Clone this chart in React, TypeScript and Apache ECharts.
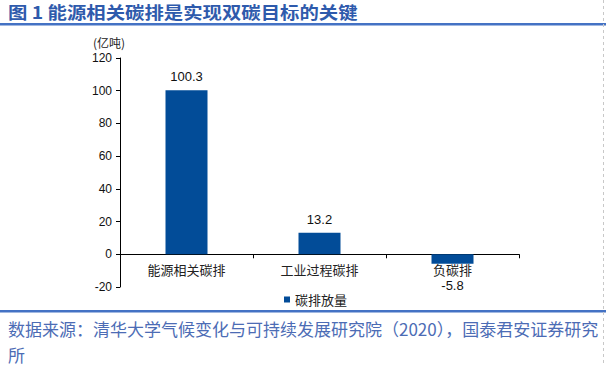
import React, { useEffect, useRef } from "react";
import * as echarts from "echarts";

const categories = ["能源相关碳排", "工业过程碳排", "负碳排"];
const emissions = [100.3, 13.2, -5.8];
const seriesName = "碳排放量";
const yTicks = { min: -20, max: 120, interval: 20 };
const titleText = "图 1 能源相关碳排是实现双碳目标的关键";
const unitText = "(亿吨)";
const sourceLine1 = "数据来源：清华大学气候变化与可持续发展研究院（2020），国泰君安证券研究";
const sourceLine2 = "所";

const BAR = "#024C98";
const CJK = "'Noto Sans CJK SC', sans-serif";
const LATIN = "'Liberation Sans', Arial, sans-serif";

const GRID_TOP = 58;
const GRID_BOTTOM = 79;
const PLOT_H = 366 - GRID_TOP - GRID_BOTTOM;

export default function App() {
  const ref = useRef<HTMLDivElement>(null);
  useEffect(() => {
    if (!ref.current) return;
    const chart = echarts.init(ref.current, null, { renderer: "svg" });
    // distance from the grid bottom (y = min) up to the zero line
    const zeroOffset = (PLOT_H * (0 - yTicks.min)) / (yTicks.max - yTicks.min);
    chart.setOption({
      animation: false,
      backgroundColor: "#ffffff",
      grid: { left: 120, right: 89, top: GRID_TOP, bottom: GRID_BOTTOM },
      legend: {
        data: [seriesName],
        left: 279,
        top: 288,
        icon: "rect",
        itemWidth: 6,
        itemHeight: 6,
        itemGap: 4,
        textStyle: { fontFamily: CJK, fontSize: 13, color: "#222" },
      },
      xAxis: {
        type: "category",
        data: categories,
        offset: -zeroOffset,
        axisLine: { onZero: false, lineStyle: { color: "#000", width: 1 } },
        axisTick: { show: true, length: 4, lineStyle: { color: "#000" } },
        axisLabel: { fontFamily: CJK, fontSize: 13, color: "#222", margin: 9 },
      },
      yAxis: {
        type: "value",
        min: yTicks.min,
        max: yTicks.max,
        interval: yTicks.interval,
        axisLine: { show: true, lineStyle: { color: "#000", width: 1 } },
        axisTick: { show: true, inside: false, length: 4, lineStyle: { color: "#000" } },
        axisLabel: { fontFamily: LATIN, fontSize: 12, color: "#111", margin: 8 },
        splitLine: { show: false },
      },
      series: [
        {
          name: seriesName,
          type: "bar",
          barWidth: 42,
          itemStyle: { color: BAR },
          label: {
            show: true,
            position: "top",
            distance: 7,
            fontFamily: LATIN,
            fontSize: 13,
            color: "#111",
          },
          data: emissions.map((v) =>
            v < 0
              ? { value: v, label: { position: "bottom", distance: 15 } }
              : { value: v }
          ),
        },
      ],
      graphic: [
        {
          type: "text",
          x: 8,
          y: 12,
          scaleX: 1.14,
          style: {
            text: titleText,
            fontFamily: CJK,
            fontWeight: "bold",
            fontSize: 17,
            fill: "#2E5AAC",
            verticalAlign: "middle",
          },
        },
        {
          type: "rect",
          shape: { x: 0, y: 23, width: 606, height: 2.5 },
          style: { fill: "#4472C4" },
        },
        {
          type: "text",
          x: 109,
          y: 42,
          style: {
            text: unitText,
            fontFamily: CJK,
            fontSize: 12,
            fill: "#222",
            align: "center",
            verticalAlign: "middle",
          },
        },
        {
          type: "rect",
          shape: { x: 0, y: 310, width: 606, height: 2.5 },
          style: { fill: "#4472C4" },
        },
        {
          type: "text",
          x: 8,
          y: 328,
          style: {
            text: sourceLine1,
            fontFamily: CJK,
            fontSize: 17,
            fill: "#4C6CB5",
            verticalAlign: "middle",
          },
        },
        {
          type: "text",
          x: 8,
          y: 354,
          style: {
            text: sourceLine2,
            fontFamily: CJK,
            fontSize: 17,
            fill: "#4C6CB5",
            verticalAlign: "middle",
          },
        },
        {
          type: "line",
          shape: { x1: 603.5, y1: 0, x2: 603.5, y2: 366 },
          style: { stroke: "#c8c8c8", lineWidth: 1, lineDash: [3, 3] },
        },
      ],
    });
    return () => chart.dispose();
  }, []);
  return (
    <div
      ref={ref}
      style={{ position: "absolute", left: 0, top: 0, width: 608, height: 366 }}
    />
  );
}
